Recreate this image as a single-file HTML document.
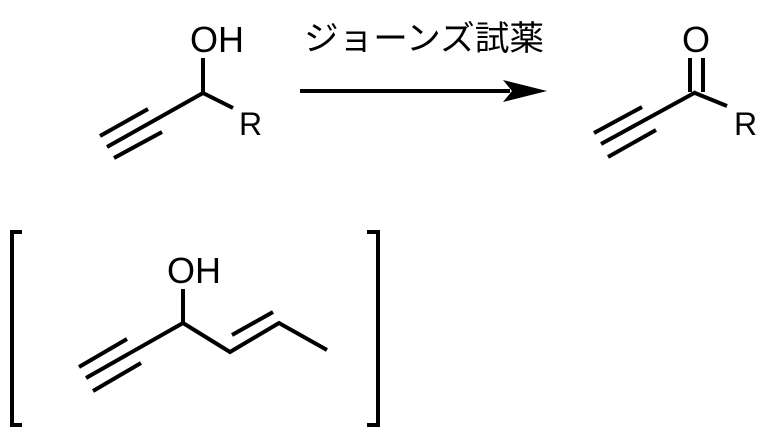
<!DOCTYPE html>
<html><head><meta charset="utf-8"><style>
html,body{margin:0;padding:0;background:#fff;}
svg{display:block;}
text{font-family:"Liberation Sans","Noto Sans CJK JP",sans-serif;fill:#000;}
</style></head><body>
<svg width="768" height="435" viewBox="0 0 768 435" xmlns="http://www.w3.org/2000/svg">
<g stroke="#000" stroke-width="4" fill="none" stroke-linecap="butt">
<!-- reactant -->
<line x1="107" y1="147" x2="203" y2="93"/>
<line x1="100" y1="136" x2="148" y2="109"/>
<line x1="114" y1="158" x2="162" y2="132"/>
<line x1="203" y1="93" x2="203" y2="58"/>
<line x1="203" y1="93" x2="233" y2="108"/>
<!-- arrow -->
<line x1="300" y1="91" x2="510" y2="91"/>
<!-- product -->
<line x1="601" y1="144" x2="696" y2="92"/>
<line x1="594" y1="133" x2="642" y2="107"/>
<line x1="608" y1="157" x2="656" y2="130"/>
<line x1="690" y1="92" x2="690" y2="58"/>
<line x1="703" y1="92" x2="703" y2="58"/>
<line x1="695" y1="93" x2="727" y2="106"/>
<!-- bracket structure -->
<polyline points="22,232 12,232 12,425 22,425"/>
<polyline points="367,232 378,232 378,425 367,425"/>
<line x1="86" y1="378" x2="183" y2="323"/>
<line x1="79" y1="367" x2="127" y2="339"/>
<line x1="93" y1="391" x2="141" y2="363"/>
<line x1="183" y1="323" x2="183" y2="289"/>
<polyline points="183,323 230,352 279,323 327,350"/>
<line x1="232" y1="335" x2="273" y2="312"/>
</g>
<polygon points="547,91 503,80 512,91 503,102" fill="#000"/>
<text x="190" y="52" font-size="36">OH</text>
<text x="239" y="135" font-size="32">R</text>
<text x="304" y="50" font-size="34" textLength="240" lengthAdjust="spacingAndGlyphs">ジョーンズ試薬</text>
<text x="682" y="52" font-size="36">O</text>
<text x="734" y="135" font-size="32">R</text>
<text x="167" y="283" font-size="36">OH</text>
</svg>
</body></html>
